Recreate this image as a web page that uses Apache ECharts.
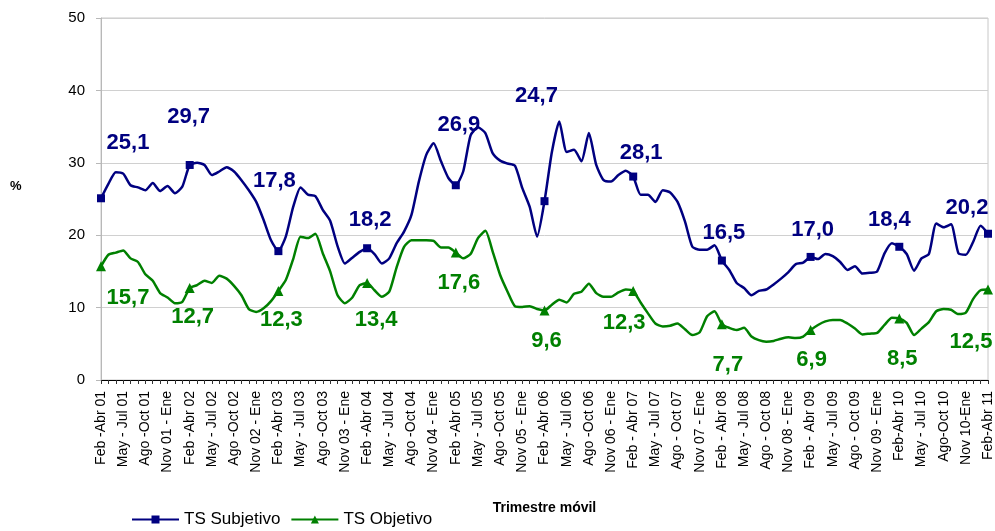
<!DOCTYPE html>
<html>
<head>
<meta charset="utf-8">
<script src="https://cdn.jsdelivr.net/npm/echarts@6/dist/echarts.min.js"></script>
<style>
  html, body { margin: 0; padding: 0; background: #fff; }
  #chart { width: 995px; height: 531px; }
</style>
</head>
<body>
<div id="chart"></div>
<script>
// tick labels, one every 3 moving trimesters
const tickLabels = [
  'Feb -Abr 01', 'May - Jul 01', 'Ago -Oct 01', 'Nov 01 - Ene',
  'Feb -Abr 02', 'May - Jul 02', 'Ago -Oct 02', 'Nov 02 - Ene',
  'Feb -Abr 03', 'May - Jul 03', 'Ago -Oct 03', 'Nov 03 - Ene',
  'Feb -Abr 04', 'May - Jul 04', 'Ago -Oct 04', 'Nov 04 - Ene',
  'Feb -Abr 05', 'May - Jul 05', 'Ago -Oct 05', 'Nov 05 - Ene',
  'Feb -Abr 06', 'May - Jul 06', 'Ago -Oct 06', 'Nov 06 - Ene',
  'Feb - Abr 07', 'May - Jul 07', 'Ago - Oct 07', 'Nov 07 - Ene',
  'Feb - Abr 08', 'May - Jul 08', 'Ago - Oct 08', 'Nov 08 - Ene',
  'Feb - Abr 09', 'May - Jul 09', 'Ago - Oct 09', 'Nov 09 - Ene',
  'Feb-Abr 10', 'May - Jul 10', 'Ago-Oct 10', 'Nov 10-Ene', 'Feb-Abr 11'
]

const tsSubjetivo = [
  25.1, 27.1, 28.7, 28.5, 26.9, 26.6, 26.2, 27.2, 26.1, 26.8, 25.8, 26.7,
  29.7, 30.0, 29.7, 28.3, 28.8, 29.4, 28.8, 27.6, 26.2, 24.6, 22.1, 19.3,
  17.8, 19.8, 23.9, 26.6, 25.6, 25.4, 23.5, 22.0, 18.5, 16.1, 16.9, 17.7,
  18.2, 17.4, 16.1, 16.8, 18.9, 20.5, 22.8, 27.4, 31.1, 32.7, 30.2, 27.9,
  26.9, 28.8, 33.8, 34.9, 34.1, 31.3, 30.3, 29.9, 29.6, 26.5, 23.9, 19.8,
  24.7, 31.5, 35.7, 31.5, 31.8, 30.2, 34.1, 29.7, 27.6, 27.4, 28.3, 28.9,
  28.1, 25.6, 25.6, 24.6, 26.2, 25.9, 24.6, 21.9, 18.4, 18.0, 18.0, 18.6,
  16.5, 15.2, 13.4, 12.7, 11.7, 12.3, 12.5, 13.2, 14.0, 14.9, 16.0, 16.2,
  17.0, 16.7, 17.4, 17.1, 16.3, 15.2, 15.7, 14.7, 14.8, 15.0, 17.5, 18.9,
  18.4, 17.4, 15.1, 16.8, 17.4, 21.6, 21.1, 21.5, 17.5, 17.3, 19.1, 21.3,
  20.2
]

const tsObjetivo = [
  15.7, 17.3, 17.6, 17.9, 16.8, 16.3, 14.6, 13.7, 12.0, 11.4, 10.6, 10.8,
  12.7, 13.1, 13.7, 13.4, 14.4, 14.0, 13.0, 11.7, 9.8, 9.4, 9.9, 10.9,
  12.3, 13.8, 16.7, 19.8, 19.6, 20.2, 17.5, 15.0, 11.7, 10.6, 11.4, 13.1,
  13.4, 12.4, 11.5, 12.2, 15.6, 18.4, 19.3, 19.3, 19.3, 19.2, 18.3, 18.3,
  17.6, 16.8, 17.4, 19.6, 20.6, 17.7, 14.5, 12.2, 10.2, 10.1, 10.2, 9.8,
  9.6, 10.4, 11.1, 10.7, 11.9, 12.2, 13.3, 12.0, 11.5, 11.5, 12.1, 12.5,
  12.3, 10.7, 9.2, 7.8, 7.4, 7.5, 7.8, 7.0, 6.2, 6.6, 8.8, 9.5,
  7.7, 7.2, 6.9, 7.2, 6.0, 5.5, 5.3, 5.4, 5.7, 5.9, 5.8, 6.0,
  6.9, 7.6, 8.1, 8.3, 8.3, 7.8, 7.1, 6.3, 6.4, 6.5, 7.6, 8.6,
  8.5, 7.9, 6.2, 7.1, 8.0, 9.5, 9.8, 9.7, 9.1, 9.3, 11.2, 12.4,
  12.5
]

// one category per month; only every third one carries a tick label
const categories = []
for (let i = 0; i < tsSubjetivo.length; i++) {
  categories.push(i % 3 === 0 ? tickLabels[i / 3] : '')
}

// hand-placed label offsets (Excel labels were dragged around)
const subjOffsets = [[27, -55], [-1, -48], [-4, -70], [3, -28], [3, -60], [-8, -105],
  [8, -24], [2, -28], [2, -27], [-10, -27], [-21, -26]]
const objOffsets = [[27, 32], [3, 29], [3, 29], [9, 37], [3, 30], [2, 30],
  [-9, 32], [6, 41], [1, 30], [3, 40], [-17, 52]]

const fmt = v => String(v.toFixed(1)).replace('.', ',')

const buildData = (values, offsets) => values.map((v, i) => {
  if (i % 12 === 0) {
    return { value: v, label: { show: true, offset: offsets[i / 12] } }
  }
  return { value: v, symbol: 'none' }
})

const chart = echarts.init(document.getElementById('chart'))
const labelStyle = {
  position: 'inside',
  fontFamily: 'Liberation Sans',
  fontWeight: 'bold',
  fontSize: 22,
  formatter: p => fmt(p.value)
}

chart.setOption({
  animation: false,
  backgroundColor: '#fff',
  textStyle: { fontFamily: 'Liberation Sans' },
  grid: {
    left: 101, right: 6, top: 18, bottom: 151,
    show: true, borderColor: '#c8c8c8', borderWidth: 1
  },
  graphic: [{
    type: 'text', left: 10, top: 180,
    style: { text: '%', fontSize: 13, fontWeight: 'bold', fill: '#000', fontFamily: 'Liberation Sans' }
  }],
  legend: {
    left: 126, top: 506,
    itemWidth: 47, itemHeight: 10, itemGap: 10,
    textStyle: { fontSize: 17, color: '#000', fontFamily: 'Liberation Sans' },
    data: ['TS Subjetivo', 'TS Objetivo']
  },
  xAxis: {
    type: 'category',
    data: categories,
    boundaryGap: false,
    name: 'Trimestre móvil',
    nameLocation: 'middle',
    nameGap: 121,
    nameTextStyle: { fontSize: 14, fontWeight: 'bold', color: '#000' },
    axisLine: { lineStyle: { color: '#000', width: 1 } },
    axisTick: { interval: 0, length: 4, lineStyle: { color: '#333' } },
    axisLabel: { interval: 2, rotate: 90, fontSize: 14, color: '#000', margin: 11 },
    splitLine: { show: false }
  },
  yAxis: {
    type: 'value',
    min: 0, max: 50, interval: 10,
    axisLine: { show: true, lineStyle: { color: '#b8b8b8' } },
    axisTick: { show: true, length: 5, lineStyle: { color: '#b8b8b8' } },
    axisLabel: { fontSize: 15, color: '#000', margin: 16 },
    splitLine: { lineStyle: { color: '#d0d0d0', width: 1 } }
  },
  series: [
    {
      name: 'TS Subjetivo',
      type: 'line',
      smooth: 0.2,
      symbol: 'rect',
      symbolSize: 8,
      showAllSymbol: true,
      itemStyle: { color: '#000080' },
      lineStyle: { color: '#000080', width: 2.5 },
      label: Object.assign({ color: '#000080' }, labelStyle),
      data: buildData(tsSubjetivo, subjOffsets)
    },
    {
      name: 'TS Objetivo',
      type: 'line',
      smooth: 0.2,
      symbol: 'triangle',
      symbolSize: 10,
      showAllSymbol: true,
      itemStyle: { color: '#008000' },
      lineStyle: { color: '#008000', width: 2.5 },
      label: Object.assign({ color: '#008000' }, labelStyle),
      data: buildData(tsObjetivo, objOffsets)
    }
  ]
})
</script>
</body>
</html>
